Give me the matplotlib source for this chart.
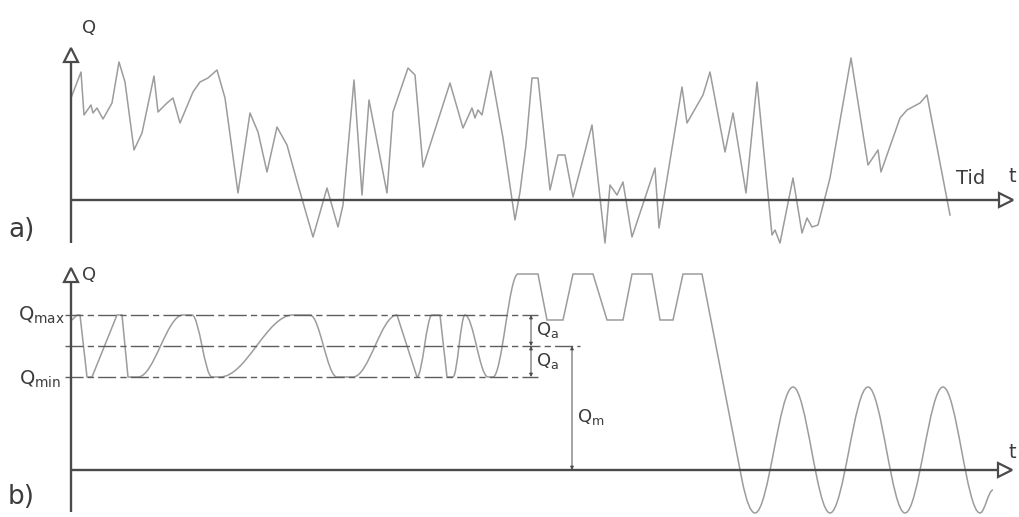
import matplotlib
matplotlib.use("Agg")
import matplotlib.pyplot as plt
from matplotlib.path import Path
from matplotlib.patches import PathPatch

plt.rcParams['lines.scale_dashes'] = False

# ---- panel a: irregular load history (t, Q) ----
a_t = [0, 10, 13, 20, 22, 26, 32, 41, 48, 54, 63, 71, 83, 87, 96, 102, 109, 122,
       129, 137, 146, 154, 167, 179, 187, 196, 206, 216, 227, 242, 256, 267, 272,
       283, 291, 298, 316, 322, 337, 344, 352, 379, 392, 401, 404, 407, 411, 420,
       432, 444, 449, 455, 461, 467, 479, 487, 494, 502, 521, 534, 539, 546, 552,
       561, 584, 588, 611, 616, 632, 639, 654, 662, 675, 686, 701, 704, 709, 722,
       731, 736, 741, 747, 759, 780, 797, 807, 810, 829, 836, 849, 856, 879]
a_Q = [102, 128, 85, 95, 87, 92, 81, 97, 138, 118, 50, 67, 124, 88, 97, 102, 77, 108,
       118, 122, 130, 102, 7, 87, 68, 28, 73, 55, 15, -37, 12, -27, -5,
       120, 5, 100, 7, 88, 132, 125, 33, 117, 72, 92, 82, 90, 85, 129,
       62, -20, 8, 55, 122, 122, 10, 45, 45, 3, 75, -43, 15, 5, 18,
       -37, 32, -28, 113, 77, 105, 128, 48, 87, 7, 118, -35, -30, -43, 22,
       -33, -18, -27, -25, 22, 142, 35, 50, 28, 82, 90, 97, 105, -15]

# ---- panel b: idealised histories ----
Q_max, Q_m, Q_min = 155, 124, 93
b_t = [1, 6, 9, 16, 21, 46, 51, 57, 67, 112, 121, 141, 149, 222, 239, 266, 282,
       326, 346, 361, 369, 376, 382, 394, 417, 422, 447, 467, 476, 492, 502, 522,
       536, 552, 561, 581, 589, 602, 612, 631, 671, 684, 722, 759, 797, 834, 872,
       909, 922]
b_Q = [150, 155, 155, 93, 93, 155, 155, 93, 93, 155, 155, 93, 93, 155, 155, 93, 93,
       155, 93, 155, 155, 93, 93, 155, 93, 93, 196, 196, 150, 150, 196, 196,
       150, 150, 196, 196, 150, 150, 196, 196, -10, -43, 83, -43, 83, -43, 83,
       -43, -20]
# l = straight, c = smooth (flat ends), q = rounding into a trough
b_seg = ['l', 'l', 'l', 'l', 'l', 'l', 'l', 'l', 'c', 'l', 'c', 'l', 'c', 'l', 'c', 'l',
         'c', 'l', 'c', 'l', 'l', 'l', 'c', 'c', 'l', 'c', 'l', 'l', 'l', 'l', 'l',
         'l', 'l', 'l', 'l', 'l', 'l', 'l', 'l', 'l', 'q', 'c', 'c', 'c', 'c', 'c',
         'c', 'c']

curve_col = '#9c9c9c'
axis_col = '#4a4a4a'
text_col = '#3c3c3c'

fig = plt.figure(figsize=(10.19, 5.17), dpi=100)
ax_a = fig.add_axes([0, 259 / 517, 1, 258 / 517])
ax_b = fig.add_axes([0, 0, 1, 259 / 517])
ax_a.set_xlim(-71, 948)
ax_a.set_ylim(-58, 200)
ax_b.set_xlim(-71, 948)
ax_b.set_ylim(-47, 212)
for ax in (ax_a, ax_b):
    ax.set_axis_off()


def draw_axes(ax, top, right, bottom):
    ax.plot([0, 0], [bottom, top - 7], color=axis_col, lw=1.7, solid_capstyle='butt')
    ax.plot([0, right - 8], [0, 0], color=axis_col, lw=1.7, solid_capstyle='butt')
    ax.plot([0], [top], marker='^', ms=10.5, mfc='white', mec=axis_col, mew=1.6)
    ax.plot([right], [0], marker='>', ms=10.5, mfc='white', mec=axis_col, mew=1.6)


# panel a
ax_a.plot(a_t, a_Q, color=curve_col, lw=1.1)
draw_axes(ax_a, 145, 935, -43)
ax_a.text(11, 172, 'Q', fontsize=13, color=text_col, va='center', ha='left')
ax_a.text(885, 22, 'Tid', fontsize=14, color=text_col, va='center', ha='left')
ax_a.text(938, 24, 't', fontsize=14, color=text_col, va='center', ha='left')
ax_a.text(-63, -30, 'a)', fontsize=19, color=text_col, va='center', ha='left')

# panel b curve
verts = [(b_t[0], b_Q[0])]
codes = [Path.MOVETO]
for i, s in enumerate(b_seg):
    x0, y0 = b_t[i], b_Q[i]
    x1, y1 = b_t[i + 1], b_Q[i + 1]
    dx = x1 - x0
    if s == 'c':
        verts += [(x0 + 0.36 * dx, y0), (x1 - 0.36 * dx, y1), (x1, y1)]
        codes += [Path.CURVE4] * 3
    elif s == 'q':
        verts += [(x0 + 0.5 * dx, y1), (x1, y1)]
        codes += [Path.CURVE3] * 2
    else:
        verts.append((x1, y1))
        codes.append(Path.LINETO)
ax_b.add_patch(PathPatch(Path(verts, codes), fill=False, edgecolor=curve_col, lw=1.1))

# reference levels
for lvl, end in ((Q_max, 467), (Q_m, 509), (Q_min, 467)):
    ax_b.plot([-6, end], [lvl, lvl], color='#5e5e5e', lw=1.0,
              dashes=(13, 3, 4.5, 3))

draw_axes(ax_b, 195, 934, -42)

# dimension lines
dim = dict(arrowstyle='<|-|>', color=axis_col, lw=0.7, shrinkA=0, shrinkB=0,
           mutation_scale=5)
ax_b.annotate('', xy=(460, Q_max), xytext=(460, Q_m), arrowprops=dim)
ax_b.annotate('', xy=(460, Q_m), xytext=(460, Q_min), arrowprops=dim)
ax_b.annotate('', xy=(501, Q_m), xytext=(501, 0), arrowprops=dim)

ax_b.text(11, 195, 'Q', fontsize=13, color=text_col, va='center', ha='left')
ax_b.text(-6, Q_max, r'Q$_{\mathrm{max}}$', fontsize=14, color=text_col,
          va='center', ha='right')
ax_b.text(-10, Q_min - 2, r'Q$_{\mathrm{min}}$', fontsize=14, color=text_col,
          va='center', ha='right')
ax_b.text(465, 140, r'Q$_{\mathrm{a}}$', fontsize=13, color=text_col, va='center')
ax_b.text(465, 109, r'Q$_{\mathrm{a}}$', fontsize=13, color=text_col, va='center')
ax_b.text(506, 53, r'Q$_{\mathrm{m}}$', fontsize=13, color=text_col, va='center')
ax_b.text(938, 18, 't', fontsize=14, color=text_col, va='center', ha='left')
ax_b.text(-63, -27, 'b)', fontsize=19, color=text_col, va='center', ha='left')

fig.savefig('out.png', dpi=100, facecolor='white')
